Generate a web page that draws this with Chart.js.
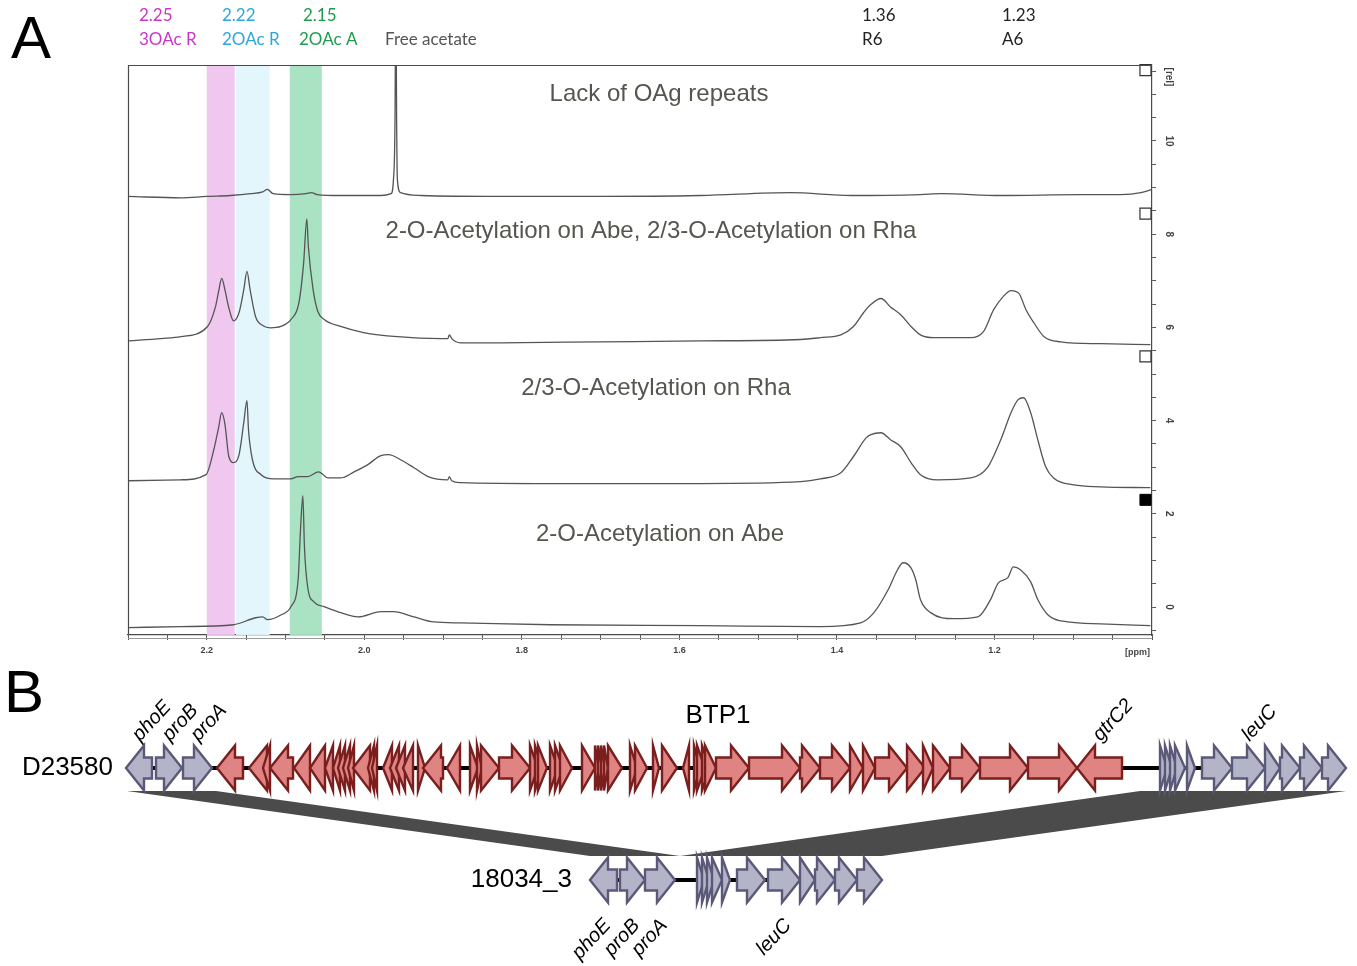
<!DOCTYPE html>
<html>
<head>
<meta charset="utf-8">
<script src="https://cdn.jsdelivr.net/npm/chart.js@4.4.1/dist/chart.umd.min.js"></script>
<style>
html,body{margin:0;padding:0;background:#fff;overflow:hidden;}
#wrap{position:relative;width:1357px;height:966px;}
#nmr{position:absolute;left:0;top:0;width:1357px;height:665px;}
#genes{position:absolute;left:0;top:665px;width:1357px;height:301px;}
</style>
</head>
<body>
<div id="wrap">
<canvas id="nmr" width="1357" height="665"></canvas>
<canvas id="genes" width="1357" height="301"></canvas>
</div>
<script>
// ================= DATA: panel A (1H NMR, ppm vs relative intensity) =================
const ppmLack = [2.30,2.233,2.20,2.17,2.144,2.129,2.123,2.116,2.093,2.074,2.067,2.060,2.03,1.979,1.966,1.963,1.961,1.960,1.959,1.958,1.954,1.928,1.827,1.70,1.573,1.459,1.382,1.294,1.268,1.192,1.09,1.04,1.014,1.0];
const intLack = [8.81,8.78,8.81,8.83,8.87,8.91,8.96,8.87,8.85,8.87,8.89,8.85,8.83,8.83,8.87,9.17,10.5,13.5,10.5,9.17,8.89,8.83,8.81,8.81,8.83,8.89,8.83,8.85,8.87,8.83,8.85,8.85,8.89,8.96];

const ppmAbeRha = [2.299,2.258,2.233,2.199,2.189,2.185,2.181,2.177,2.172,2.166,2.159,2.153,2.149,2.145,2.138,2.129,2.119,2.106,2.093,2.083,2.077,2.073,2.071,2.065,2.059,2.051,2.030,2.001,1.958,1.903,1.894,1.892,1.889,1.878,1.827,1.700,1.573,1.446,1.421,1.395,1.379,1.366,1.357,1.344,1.332,1.319,1.306,1.294,1.277,1.230,1.214,1.201,1.189,1.179,1.169,1.160,1.150,1.137,1.116,1.065,1.002];
const intAbeRha = [5.71,5.76,5.80,6.02,6.44,6.77,7.05,6.81,6.42,6.14,6.32,6.81,7.20,6.81,6.23,6.04,5.99,6.02,6.17,6.53,7.39,8.33,7.73,6.81,6.34,6.17,6.02,5.89,5.80,5.76,5.76,5.84,5.76,5.67,5.67,5.69,5.71,5.74,5.78,5.84,6.02,6.32,6.49,6.62,6.44,6.27,6.02,5.84,5.78,5.78,5.91,6.38,6.66,6.79,6.73,6.38,6.10,5.80,5.69,5.65,5.63];

const ppmRha = [2.299,2.233,2.201,2.191,2.185,2.181,2.177,2.172,2.166,2.159,2.153,2.149,2.147,2.142,2.131,2.115,2.093,2.084,2.072,2.058,2.046,2.030,2.013,1.996,1.979,1.969,1.954,1.937,1.919,1.894,1.892,1.889,1.878,1.763,1.573,1.446,1.421,1.395,1.379,1.363,1.357,1.344,1.332,1.319,1.306,1.294,1.272,1.230,1.209,1.192,1.179,1.170,1.163,1.154,1.145,1.135,1.125,1.099,1.065,1.002];
const intRha = [2.71,2.73,2.84,3.38,3.85,4.17,3.93,3.23,3.10,3.27,3.96,4.43,3.80,3.16,2.84,2.75,2.75,2.80,2.80,2.90,2.77,2.77,2.90,3.05,3.25,3.27,3.16,2.99,2.80,2.73,2.80,2.71,2.67,2.65,2.65,2.69,2.75,2.88,3.23,3.63,3.70,3.74,3.59,3.44,3.10,2.84,2.73,2.77,2.99,3.59,4.17,4.45,4.49,4.17,3.59,3.01,2.77,2.62,2.58,2.56];

const ppmAbe = [2.299,2.233,2.166,2.138,2.129,2.123,2.106,2.093,2.084,2.081,2.078,2.076,2.072,2.064,2.051,2.030,2.008,1.979,1.963,1.937,1.912,1.878,1.763,1.573,1.421,1.370,1.353,1.335,1.323,1.316,1.306,1.300,1.294,1.281,1.252,1.221,1.205,1.195,1.183,1.176,1.167,1.154,1.145,1.132,1.107,1.065,1.002];
const intAbe = [-0.44,-0.42,-0.38,-0.23,-0.21,-0.27,-0.17,0.01,0.59,1.66,2.39,1.29,0.44,0.11,0.01,-0.12,-0.21,-0.10,-0.10,-0.21,-0.32,-0.34,-0.38,-0.40,-0.42,-0.34,-0.12,0.37,0.80,0.95,0.84,0.59,0.16,-0.12,-0.25,-0.21,0.16,0.52,0.63,0.86,0.80,0.54,0.16,-0.17,-0.32,-0.36,-0.40];

const traceTitles = ['Lack of OAg repeats','2-O-Acetylation on Abe, 2/3-O-Acetylation on Rha','2/3-O-Acetylation on Rha','2-O-Acetylation on Abe'];

// highlighted acetyl regions (ppm)
const bandFrom = [2.200, 2.163, 2.0946];
const bandTo   = [2.1645, 2.120, 2.054];

// peak labels above the spectrum
const peakShifts = ['2.25','2.22','2.15','','1.36','1.23'];
const peakNames  = ['3OAc R','2OAc R','2OAc A','Free acetate','R6','A6'];

// spectrometer marker boxes on the right edge
const markerPpm = 1.0083;
const markerOpenInt = [11.52, 8.44, 5.38];
const markerFilledInt = [2.30];

// axis ticks
const xMajorValues = [2.2, 2.0, 1.8, 1.6, 1.4, 1.2];
const xMajorLabels = ['2.2','2.0','1.8','1.6','1.4','1.2'];
const yMajorValues = [0, 2, 4, 6, 8, 10];
const yMajorLabels = ['0','2','4','6','8','10'];

// ================= DATA: panel B (gene maps, kb) =================
const d23Start = [0.0,1.5,2.85,4.55,6.15,6.85,7.2,8.4,9.2,9.95,10.35,10.6,10.85,11.1,11.35,12.1,12.3,12.85,13.2,13.5,13.85,14.6,14.85,16.05,17.2,17.55,17.75,18.65,20.2,20.45,20.6,21.2,21.45,21.7,22.8,23.45,23.6,23.75,23.9,24.1,25.2,25.45,26.35,26.8,27.85,28.4,28.55,28.8,28.95,29.5,31.15,33.7,34.7,36.2,36.85,37.45,39.05,39.85,40.35,41.2,42.7,45.1,47.55,51.7,51.95,52.2,52.45,53.05,53.8,55.3,56.95,57.7,58.7,59.8];
const d23End = [1.3,2.8,4.3,5.85,7.05,7.2,8.35,9.2,9.95,10.35,10.7,10.95,11.2,11.4,12.2,12.4,12.55,13.3,13.65,13.95,14.35,14.95,15.85,16.7,17.6,17.8,18.65,20.2,20.6,20.8,21.05,21.6,21.85,22.3,23.45,23.65,23.8,23.95,24.1,24.8,25.55,26.05,26.65,27.55,28.15,28.7,28.95,29.2,29.5,31.15,33.7,34.7,36.2,36.85,37.45,39.05,39.95,40.35,41.2,42.7,45.1,47.55,49.8,52.05,52.3,52.55,52.95,53.45,55.3,56.95,57.7,58.7,59.8,61.0];
const d23Strand = [-1,1,1,-1,-1,-1,-1,-1,-1,-1,-1,-1,-1,-1,-1,-1,-1,-1,-1,-1,-1,1,-1,-1,1,1,1,1,1,1,1,1,1,1,1,1,1,1,1,1,1,1,1,1,-1,1,1,1,1,1,1,1,1,1,1,1,1,1,1,1,1,1,-1,1,1,1,1,1,1,1,1,1,1,1];
const d23Kind = ['host','host','host','phage','phage','phage','phage','phage','phage','phage','phage','phage','phage','phage','phage','phage','phage','phage','phage','phage','phage','phage','phage','phage','phage','phage','phage','phage','phage','phage','phage','phage','phage','phage','phage','phage','phage','phage','phage','phage','phage','phage','phage','phage','phage','phage','phage','phage','phage','phage','phage','phage','phage','phage','phage','phage','phage','phage','phage','phage','phage','phage','phage','host','host','host','host','host','host','host','host','host','host','host'];
const d23LabelGene = [0, 1, 2, 62, 69];
const d23LabelText = ['phoE','proB','proA','gtrC2','leuC'];

const s18Start = [23.2,24.7,25.95,28.55,28.8,29.05,29.3,29.8,30.55,32.1,33.7,34.45,35.45,36.55];
const s18End = [24.55,25.95,27.45,28.9,29.15,29.4,29.8,30.2,31.95,33.7,34.45,35.45,36.55,37.8];
const s18Strand = [-1,1,1,1,1,1,1,1,1,1,1,1,1,1];
const s18LabelGene = [0, 1, 2, 9];
const s18LabelText = ['phoE','proB','proA','leuC'];

const strainNames = ['D23580','18034_3'];
const trackStart = [0.0, 23.2];
const trackEnd = [61.0, 37.8];
const prophageName = 'BTP1';

const linkFromStart = [0.05, 50.7];
const linkFromEnd = [4.5, 61.0];
const linkToStart = [23.2, 27.7];
const linkToEnd = [27.7, 37.8];

// ================= STYLE =================
const TRACE_COLOR = '#555555';
const BAND_COLORS = ['rgba(238,196,238,0.95)','rgba(226,246,251,0.95)','rgba(164,226,192,0.95)'];
const PEAK_COLORS = ['#c935c9','#2ea6da','#1f9d4f','#555555','#222222','#222222'];
const PEAK_SHIFT_X = [139, 222, 303, 385, 862, 1002];
const PEAK_NAME_X  = [139, 222, 299, 385, 862, 1002];
const TITLE_POS = [[659,94],[651,231],[656,388],[660,534]];
const SANS = '"Liberation Sans", Arial, sans-serif';

function pts(xs, ys) { return xs.map((v, i) => ({x: v, y: ys[i]})); }
function traceDs(xs, ys) {
  return {data: pts(xs, ys), showLine: true, pointRadius: 0, borderColor: TRACE_COLOR,
          borderWidth: 1.3, cubicInterpolationMode: 'monotone', fill: false};
}

const xTickList = [];
for (let k = 0; k <= 26; k++) xTickList.push(+(1.0 + k * 0.05).toFixed(2));
const yTickList = [];
for (let k = -1; k <= 23; k++) yTickList.push(k * 0.5);

const decorA = {
  id: 'decorA',
  beforeDatasetsDraw(chart) {
    const {ctx, chartArea: a, scales: {x}} = chart;
    ctx.save();
    for (let i = 0; i < bandFrom.length; i++) {
      const x1 = x.getPixelForValue(bandFrom[i]), x2 = x.getPixelForValue(bandTo[i]);
      ctx.fillStyle = BAND_COLORS[i];
      ctx.fillRect(Math.min(x1, x2), a.top, Math.abs(x2 - x1), a.bottom - a.top);
    }
    ctx.restore();
  },
  afterDraw(chart) {
    const {ctx, chartArea: a, scales: {y}} = chart;
    ctx.save();
    // frame (left + top)
    ctx.strokeStyle = '#4a4a4a'; ctx.lineWidth = 1.2;
    ctx.beginPath();
    ctx.moveTo(a.left + 0.5, a.bottom); ctx.lineTo(a.left + 0.5, a.top + 0.5); ctx.lineTo(a.right, a.top + 0.5);
    ctx.stroke();
    ctx.strokeStyle = '#9a9a9a'; ctx.lineWidth = 1;
    ctx.beginPath(); ctx.moveTo(a.left, a.bottom + 3.5); ctx.lineTo(a.right, a.bottom + 3.5); ctx.stroke();
    // right axis labels (rotated)
    ctx.fillStyle = '#444'; ctx.font = 'bold 10px ' + SANS;
    ctx.textAlign = 'center'; ctx.textBaseline = 'middle';
    yMajorValues.forEach((v, i) => {
      ctx.save(); ctx.translate(a.right + 17, y.getPixelForValue(v)); ctx.rotate(Math.PI / 2);
      ctx.fillText(yMajorLabels[i], 0, 0); ctx.restore();
    });
    ctx.save(); ctx.translate(a.right + 17, a.top + 12); ctx.rotate(Math.PI / 2);
    ctx.fillText('[rel]', 0, 0); ctx.restore();
    ctx.font = 'bold 9px ' + SANS;
    ctx.textAlign = 'right';
    ctx.fillText('[ppm]', a.right - 2, 653);
    // panel letter
    ctx.fillStyle = '#000'; ctx.font = '60px ' + SANS; ctx.textAlign = 'left'; ctx.textBaseline = 'alphabetic';
    ctx.fillText('A', 11, 58);
    // peak labels
    ctx.font = '17px Lato, "Open Sans", sans-serif'; ctx.textBaseline = 'middle';
    for (let i = 0; i < peakNames.length; i++) {
      ctx.fillStyle = PEAK_COLORS[i];
      if (peakShifts[i]) ctx.fillText(peakShifts[i], PEAK_SHIFT_X[i], 16);
      ctx.fillText(peakNames[i], PEAK_NAME_X[i], 40);
    }
    // trace titles
    ctx.fillStyle = '#56564e'; ctx.font = '24px ' + SANS; ctx.textAlign = 'center';
    traceTitles.forEach((t, i) => ctx.fillText(t, TITLE_POS[i][0], TITLE_POS[i][1]));
    ctx.restore();
  }
};

new Chart(document.getElementById('nmr'), {
  type: 'scatter',
  data: {
    datasets: [
      traceDs(ppmLack, intLack),
      traceDs(ppmAbeRha, intAbeRha),
      traceDs(ppmRha, intRha),
      traceDs(ppmAbe, intAbe),
      {data: markerOpenInt.map(v => ({x: markerPpm, y: v})), pointStyle: 'rect', pointRadius: 7.8,
       backgroundColor: '#ffffff', borderColor: '#333', borderWidth: 1.2, showLine: false, clip: false},
      {data: markerFilledInt.map(v => ({x: markerPpm, y: v})), pointStyle: 'rect', pointRadius: 7.8,
       backgroundColor: '#000000', borderColor: '#000', borderWidth: 1, showLine: false, clip: false}
    ]
  },
  options: {
    responsive: false, animation: false, devicePixelRatio: 1,
    layout: {padding: {left: 128, top: 65, right: 0, bottom: 0}},
    plugins: {legend: {display: false}, tooltip: {enabled: false}},
    scales: {
      x: {
        type: 'linear', reverse: true, min: 1.0, max: 2.3,
        afterBuildTicks: s => { s.ticks = xTickList.map(v => ({value: v})); },
        afterFit: s => { s.height = 30; },
        ticks: {
          autoSkip: false, maxRotation: 0, padding: 5, color: '#444',
          font: {family: SANS, size: 9, weight: 'bold'},
          callback: v => { const i = xMajorValues.findIndex(m => Math.abs(m - v) < 1e-6); return i >= 0 ? xMajorLabels[i] : ''; }
        },
        grid: {drawOnChartArea: false, drawTicks: true, tickLength: 5, color: '#555'},
        border: {display: true, color: '#4a4a4a', width: 1.2}
      },
      y: {
        type: 'linear', position: 'right', min: -0.6, max: 11.63,
        afterBuildTicks: s => { s.ticks = yTickList.map(v => ({value: v})); },
        afterFit: s => { s.width = 205; },
        ticks: {display: false},
        grid: {drawOnChartArea: false, drawTicks: true, tickLength: 4, color: '#555'},
        border: {display: true, color: '#4a4a4a', width: 1.2}
      }
    }
  },
  plugins: [decorA]
});

// ================= Panel B =================
const GENE_STYLE = {
  host: {fill: '#b4b4c8', stroke: '#5a5a78'},
  phage: {fill: '#df8383', stroke: '#7a1e1e'}
};
const BODY_HALF = 10.5, HEAD_HALF = 22.5, HEAD_LEN = 18;

function arrow(ctx, xa, xb, cy, strand) {
  const x1 = Math.min(xa, xb), x2 = Math.max(xa, xb);
  const len = x2 - x1;
  const h = Math.min(HEAD_LEN, len);
  ctx.beginPath();
  if (strand > 0) {
    if (h >= len) { ctx.moveTo(x1, cy - HEAD_HALF); ctx.lineTo(x2, cy); ctx.lineTo(x1, cy + HEAD_HALF); }
    else {
      const b = x2 - h;
      ctx.moveTo(x1, cy - BODY_HALF); ctx.lineTo(b, cy - BODY_HALF); ctx.lineTo(b, cy - HEAD_HALF);
      ctx.lineTo(x2, cy); ctx.lineTo(b, cy + HEAD_HALF); ctx.lineTo(b, cy + BODY_HALF); ctx.lineTo(x1, cy + BODY_HALF);
    }
  } else {
    if (h >= len) { ctx.moveTo(x2, cy - HEAD_HALF); ctx.lineTo(x1, cy); ctx.lineTo(x2, cy + HEAD_HALF); }
    else {
      const b = x1 + h;
      ctx.moveTo(x2, cy - BODY_HALF); ctx.lineTo(b, cy - BODY_HALF); ctx.lineTo(b, cy - HEAD_HALF);
      ctx.lineTo(x1, cy); ctx.lineTo(b, cy + HEAD_HALF); ctx.lineTo(b, cy + BODY_HALF); ctx.lineTo(x2, cy + BODY_HALF);
    }
  }
  ctx.closePath();
  ctx.fill(); ctx.stroke();
}

const genePlugin = {
  id: 'genePlugin',
  afterDatasetsDraw(chart) {
    const {ctx, scales: {x, y}} = chart;
    const r0 = y.getPixelForValue(0), r1 = y.getPixelForValue(1);
    ctx.save();
    // synteny wedges
    ctx.fillStyle = '#4b4b4b';
    for (let i = 0; i < linkFromStart.length; i++) {
      ctx.beginPath();
      ctx.moveTo(x.getPixelForValue(linkFromStart[i]), r0 + 23);
      ctx.lineTo(x.getPixelForValue(linkFromEnd[i]), r0 + 23);
      ctx.lineTo(x.getPixelForValue(linkToEnd[i]), r1 - 24);
      ctx.lineTo(x.getPixelForValue(linkToStart[i]), r1 - 24);
      ctx.closePath(); ctx.fill();
    }
    // backbones
    ctx.strokeStyle = '#000'; ctx.lineWidth = 4;
    [r0, r1].forEach((ry, i) => {
      ctx.beginPath(); ctx.moveTo(x.getPixelForValue(trackStart[i]), ry); ctx.lineTo(x.getPixelForValue(trackEnd[i]), ry); ctx.stroke();
    });
    // genes
    ctx.lineWidth = 2.4; ctx.lineJoin = 'miter';
    for (let i = 0; i < d23Start.length; i++) {
      const st = GENE_STYLE[d23Kind[i]];
      ctx.fillStyle = st.fill; ctx.strokeStyle = st.stroke;
      arrow(ctx, x.getPixelForValue(d23Start[i]), x.getPixelForValue(d23End[i]), r0, d23Strand[i]);
    }
    for (let i = 0; i < s18Start.length; i++) {
      const st = GENE_STYLE.host;
      ctx.fillStyle = st.fill; ctx.strokeStyle = st.stroke;
      arrow(ctx, x.getPixelForValue(s18Start[i]), x.getPixelForValue(s18End[i]), r1, s18Strand[i]);
    }
    // gene labels
    ctx.fillStyle = '#000'; ctx.font = 'italic 20px ' + SANS; ctx.textBaseline = 'alphabetic';
    const ang = -47 * Math.PI / 180;
    d23LabelGene.forEach((g, k) => {
      const cx = x.getPixelForValue((d23Start[g] + d23End[g]) / 2);
      ctx.save(); ctx.translate(cx + 1, r0 - 26); ctx.rotate(ang); ctx.textAlign = 'left';
      ctx.fillText(d23LabelText[k], 0, 0); ctx.restore();
    });
    s18LabelGene.forEach((g, k) => {
      const cx = x.getPixelForValue((s18Start[g] + s18End[g]) / 2);
      ctx.save(); ctx.translate(cx + 8, r1 + 46); ctx.rotate(ang); ctx.textAlign = 'right';
      ctx.fillText(s18LabelText[k], 0, 0); ctx.restore();
    });
    // strain names, prophage name, panel letter
    ctx.font = '26px ' + SANS; ctx.textBaseline = 'middle'; ctx.textAlign = 'right';
    ctx.fillText(strainNames[0], 113, r0);
    ctx.fillText(strainNames[1], 572, r1);
    ctx.textAlign = 'center';
    ctx.fillText(prophageName, 718, r0 - 52);
    ctx.font = '60px ' + SANS; ctx.textAlign = 'left'; ctx.textBaseline = 'alphabetic';
    ctx.fillText('B', 4, 47);
    ctx.restore();
  }
};

new Chart(document.getElementById('genes'), {
  type: 'scatter',
  data: {
    datasets: [
      {data: d23Start.map((s, i) => ({x: (s + d23End[i]) / 2, y: 0})), pointRadius: 0, showLine: false},
      {data: s18Start.map((s, i) => ({x: (s + s18End[i]) / 2, y: 1})), pointRadius: 0, showLine: false}
    ]
  },
  options: {
    responsive: false, animation: false, devicePixelRatio: 1,
    layout: {padding: 0},
    plugins: {legend: {display: false}, tooltip: {enabled: false}},
    scales: {
      x: {type: 'linear', min: -6.3, max: 61.55, display: false},
      y: {type: 'linear', min: -0.9196, max: 1.7679, reverse: true, display: false}
    }
  },
  plugins: [genePlugin]
});
</script>
</body>
</html>
